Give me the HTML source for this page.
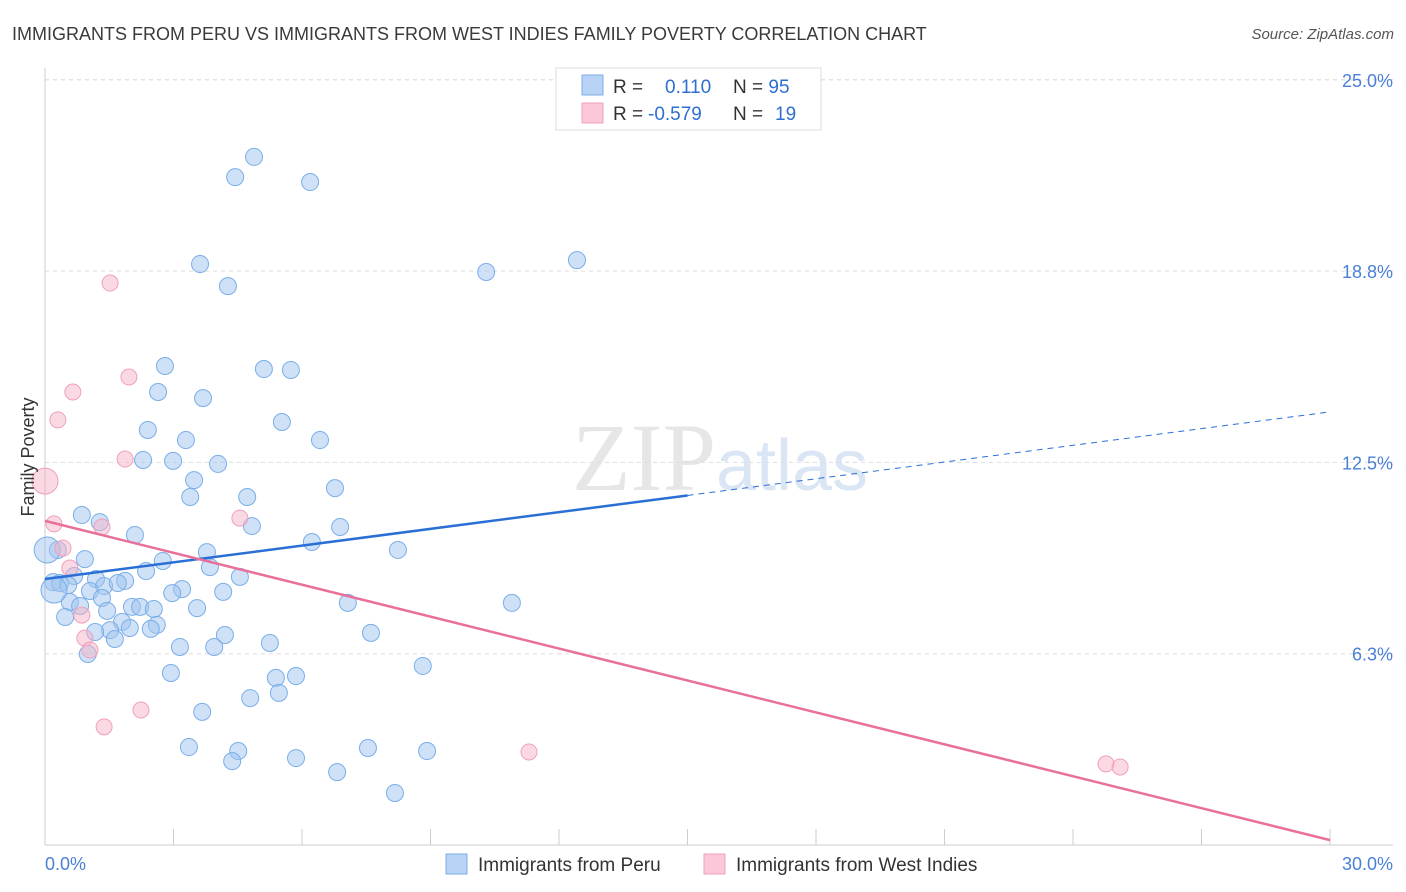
<!DOCTYPE html>
<html><head><meta charset="utf-8"><style>
body{margin:0;background:#fff;font-family:"Liberation Sans",sans-serif;}
svg{display:block}
</style></head><body>
<svg id="chart" width="1406" height="892" xmlns="http://www.w3.org/2000/svg">
<text x="12" y="40" font-size="18" fill="#3a3a3a">IMMIGRANTS FROM PERU VS IMMIGRANTS FROM WEST INDIES FAMILY POVERTY CORRELATION CHART</text>
<text x="1394" y="39" font-size="15" fill="#555" font-style="italic" text-anchor="end">Source: ZipAtlas.com</text>
<text x="720" y="490" font-size="96" text-anchor="middle" fill="#e6e6e6" font-family="Liberation Serif,serif">ZIP<tspan fill="#dbe6f5" font-family="Liberation Sans,sans-serif" font-size="72">atlas</tspan></text>
<g id="grid"></g><g id="axes"></g><g id="marks"></g>
<text transform="translate(34,457) rotate(-90)" font-size="18" fill="#333" text-anchor="middle">Family Poverty</text>
<g>
<rect x="556" y="68" width="265" height="62" fill="#fff" stroke="#ddd"/>
<rect x="582" y="75" width="21" height="20" fill="#b8d3f6" stroke="#7aaee8"/>
<rect x="582" y="103" width="21" height="20" fill="#fac8d8" stroke="#f0a0bb"/>
<text x="613" y="93" font-size="19" fill="#333">R = <tspan fill="#2f6fd0" x="665">0.110</tspan><tspan x="733">N = </tspan><tspan fill="#2f6fd0">95</tspan></text>
<text x="613" y="120" font-size="19" fill="#333">R = <tspan fill="#2f6fd0" x="648">-0.579</tspan><tspan x="733">N = </tspan><tspan fill="#2f6fd0" x="775">19</tspan></text>
</g>
<g>
<rect x="446" y="854" width="21" height="20" fill="#b8d3f6" stroke="#7aaee8"/>
<text x="478" y="871" font-size="19" fill="#333">Immigrants from Peru</text>
<rect x="704" y="854" width="21" height="20" fill="#fac8d8" stroke="#f0a0bb"/>
<text x="736" y="871" font-size="19" fill="#333">Immigrants from West Indies</text>
</g>
</svg>
<script>
const yTicks=[6.25,12.5,18.75,25];
const yTickLabels=["6.3%","12.5%","18.8%","25.0%"];
const xTickLabels=["0.0%","30.0%"];
const peruX=[4.88,4.44,6.19,12.42,10.30,3.62,4.27,2.80,5.11,5.74,2.64,3.69,5.53,2.40,3.29,6.42,2.29,2.99,4.04,3.48,3.39,4.72,6.77,0.86,1.28,4.83,6.89,2.10,6.23,8.24,0.30,0.05,3.78,0.93,2.75,3.85,2.36,0.68,1.19,4.55,0.19,0.35,0.54,1.38,1.87,1.70,3.20,2.97,4.16,1.05,1.33,0.58,0.82,7.07,10.90,2.03,2.22,2.54,1.45,3.55,0.47,1.80,2.61,1.98,1.52,1.17,2.47,4.20,7.61,1.63,5.25,3.15,3.95,1.00,8.82,2.94,5.86,5.39,5.46,4.79,3.67,3.36,4.51,7.54,8.92,4.37,5.86,6.82,8.17,0.21];
const peruY=[22.48,21.82,21.66,19.11,18.72,18.98,18.26,15.65,15.55,15.52,14.80,14.60,13.82,13.56,13.23,13.23,12.58,12.55,12.45,11.92,11.37,11.37,11.66,10.78,10.55,10.42,10.39,10.13,9.90,9.64,9.64,9.64,9.57,9.34,9.28,9.08,8.95,8.79,8.69,8.76,8.59,8.56,8.49,8.46,8.63,8.56,8.36,8.23,8.27,8.30,8.07,7.94,7.81,7.91,7.91,7.78,7.78,7.71,7.65,7.74,7.45,7.29,7.19,7.09,7.02,6.96,7.06,6.86,6.93,6.73,6.60,6.47,6.47,6.24,5.85,5.62,5.52,5.46,4.97,4.80,4.35,3.20,3.07,3.17,3.07,2.74,2.84,2.38,1.70,8.33];
const wiX=[1.52,0.65,1.96,0.30,1.87,0,4.55,0.21,1.33,0.42,0.58,0.86,0.93,1.05,2.24,1.38,11.30,24.77,25.10];
const wiY=[18.36,14.80,15.29,13.89,12.61,11.89,10.68,10.49,10.39,9.70,9.05,7.51,6.76,6.37,4.41,3.86,3.04,2.65,2.55];
const peruTrend=[8.69,14.15];
const wiTrend=[10.59,0.16];
const NS="http://www.w3.org/2000/svg";
const X=v=>45+v/30*1285, Y=v=>845-v/6.25*191.3;
function mk(t,a,p){const e=document.createElementNS(NS,t);for(const k in a)e.setAttribute(k,a[k]);document.getElementById(p).appendChild(e);return e;}
yTicks.forEach((t,i)=>{
 const g=mk('line',{x1:45,x2:1393,y1:Y(t),y2:Y(t),stroke:'#ddd','stroke-dasharray':'4,4'},'grid');
 
 
 const l=mk('text',{x:1393,y:Y(t)+7,'font-size':18,fill:'#4a7fd8','text-anchor':'end'},'axes');l.textContent=yTickLabels[i];
 
 
});
mk('line',{x1:45,x2:1393,y1:Y(25),y2:Y(25),stroke:'#ddd','stroke-dasharray':'4,4'},'grid');
mk('line',{x1:45,x2:45,y1:68,y2:845,stroke:'#ccc'},'axes');
mk('line',{x1:45,x2:1393,y1:845,y2:845,stroke:'#ccc'},'axes');
for(let i=0;i<=10;i++){const t=mk('line',{x1:X(i*3),x2:X(i*3),y1:829,y2:845,stroke:'#ccc'},'axes');
 
 }
const xl0=mk('text',{x:45,y:870,'font-size':18,fill:'#4a7fd8'},'axes');xl0.textContent=xTickLabels[0];


const xl1=mk('text',{x:1393,y:870,'font-size':18,fill:'#4a7fd8','text-anchor':'end'},'axes');xl1.textContent=xTickLabels[1];


peruX.forEach((x,i)=>{const big=(i==31||i==89);const c=mk('circle',{cx:X(x),cy:Y(peruY[i]),r:big?13:8.5,fill:'rgba(160,196,240,0.5)',stroke:'#7aaee8','stroke-width':1},'marks');
 
 });
wiX.forEach((x,i)=>{const c=mk('circle',{cx:X(x),cy:Y(wiY[i]),r:i==5?13:8,fill:'rgba(245,180,200,0.5)',stroke:'#f0a0bb','stroke-width':1},'marks');
 
 });
const pm=(peruTrend[0]+peruTrend[1])/2;
const l1=mk('line',{x1:X(0),y1:Y(peruTrend[0]),x2:X(15),y2:Y(pm),stroke:'#2a6fd6','stroke-width':2.5},'marks');


const l2=mk('line',{x1:X(15),y1:Y(pm),x2:X(30),y2:Y(peruTrend[1]),stroke:'#2a6fd6','stroke-width':1,'stroke-dasharray':'6,5'},'marks');


const l3=mk('line',{x1:X(0),y1:Y(wiTrend[0]),x2:X(30),y2:Y(wiTrend[1]),stroke:'#e8709a','stroke-width':2.5},'marks');


</script>
</body></html>
